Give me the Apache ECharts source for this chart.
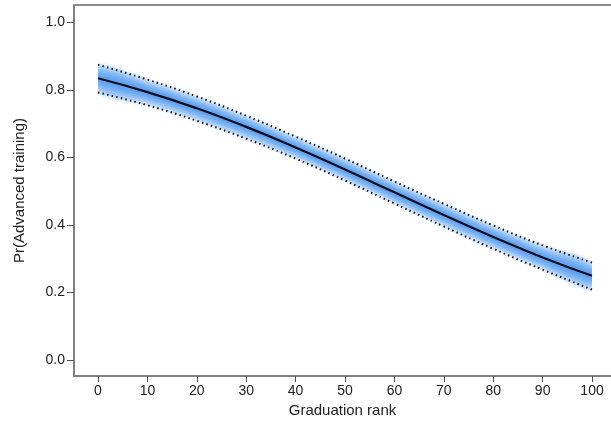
<!DOCTYPE html>
<html>
<head>
<meta charset="utf-8">
<script src="https://cdn.jsdelivr.net/npm/echarts@6/dist/echarts.min.js"></script>
<style>html,body{margin:0;padding:0;background:#fff}#c{width:611px;height:431px}</style>
</head>
<body>
<div id="c"></div>
<script>
// Graduation rank values
const ranks = [0, 10, 20, 30, 40, 50, 60, 70, 80, 90, 100];
// Predicted probability (central line)
const center = [0.835, 0.794, 0.746, 0.691, 0.630, 0.565, 0.497, 0.430, 0.365, 0.304, 0.250];
// Upper / lower bounds (dotted lines)
const upper = [0.875, 0.831, 0.781, 0.724, 0.662, 0.597, 0.529, 0.463, 0.399, 0.340, 0.289];
const lower = [0.793, 0.755, 0.709, 0.656, 0.597, 0.532, 0.464, 0.396, 0.330, 0.268, 0.209];
// Tick labels
const xTicks = [0, 10, 20, 30, 40, 50, 60, 70, 80, 90, 100];
const yTicks = [0, 0.2, 0.4, 0.6, 0.8, 1.0];

const FONT = 'Liberation Sans, Arial, sans-serif';
const X_MIN = -4.86, X_MAX = 103.84;
// shaded gradient band: nested layers between lower and upper
const fracs = [1.15, 1.0, 0.85, 0.7, 0.55, 0.4, 0.25];

const series = [];
series.push({
  type: 'custom',
  data: fracs.map((f, k) => [k, 0]),
  silent: true,
  z: 1,
  clip: true,
  renderItem: function (params, api) {
    const f = fracs[params.dataIndex];
    const top = ranks.map((x, i) => api.coord([x, center[i] + f * (upper[i] - center[i])]));
    const bot = ranks.map((x, i) => api.coord([x, center[i] - f * (center[i] - lower[i])])).reverse();
    const alpha = params.dataIndex === 0 ? 0.07 : 0.17;
    const x0 = api.coord([ranks[0], 0])[0];
    const x1 = api.coord([ranks[ranks.length - 1], 0])[0];
    return {
      type: 'polygon',
      shape: { points: top.concat(bot), smooth: 0.3 },
      style: { fill: 'rgba(30,125,235,' + alpha + ')', stroke: null },
      clipPath: { type: 'rect', shape: { x: x0, y: 0, width: x1 - x0, height: 431 } }
    };
  }
});
series.push({
  type: 'line', data: ranks.map((x, i) => [x, upper[i]]), smooth: true, symbol: 'none',
  lineStyle: { color: '#111', width: 2, type: [1.5, 3.2] }, z: 3
});
series.push({
  type: 'line', data: ranks.map((x, i) => [x, lower[i]]), smooth: true, symbol: 'none',
  lineStyle: { color: '#111', width: 2, type: [1.5, 3.2] }, z: 3
});
series.push({
  type: 'line', data: ranks.map((x, i) => [x, center[i]]), smooth: true, symbol: 'none',
  lineStyle: { color: '#0d0d1a', width: 2.2 }, z: 4
});

const chart = echarts.init(document.getElementById('c'), null, { renderer: 'canvas' });
chart.setOption({
  animation: false,
  backgroundColor: '#fff',
  grid: { left: 74, right: 0, top: 5, bottom: 55, show: false },
  xAxis: [{
    type: 'value', min: X_MIN, max: X_MAX,
    name: 'Graduation rank', nameLocation: 'middle', nameGap: 27,
    nameTextStyle: { fontFamily: FONT, fontSize: 15, color: '#222' },
    axisLine: { show: true, onZero: false, lineStyle: { color: '#808080', width: 2 } },
    axisTick: { show: true, customValues: xTicks, length: 6, lineStyle: { color: '#555', width: 1 } },
    axisLabel: { customValues: xTicks, fontFamily: FONT, fontSize: 14, color: '#222', margin: 8 },
    splitLine: { show: false }
  }, {
    type: 'value', position: 'top', min: X_MIN, max: X_MAX,
    axisLine: { show: true, onZero: false, lineStyle: { color: '#8c8c8c', width: 2 } },
    axisTick: { show: false }, axisLabel: { show: false }, splitLine: { show: false }
  }],
  yAxis: {
    type: 'value', min: -0.047, max: 1.052,
    name: 'Pr(Advanced training)', nameLocation: 'middle', nameGap: 47,
    nameTextStyle: { fontFamily: FONT, fontSize: 15, color: '#222' },
    axisLine: { show: true, onZero: false, lineStyle: { color: '#808080', width: 2 } },
    axisTick: { show: true, customValues: yTicks, length: 7, lineStyle: { color: '#555', width: 1 } },
    axisLabel: { customValues: yTicks, fontFamily: FONT, fontSize: 14, color: '#222', margin: 9,
      formatter: v => v.toFixed(1) },
    splitLine: { show: false }
  },
  series: series
});
</script>
</body>
</html>
